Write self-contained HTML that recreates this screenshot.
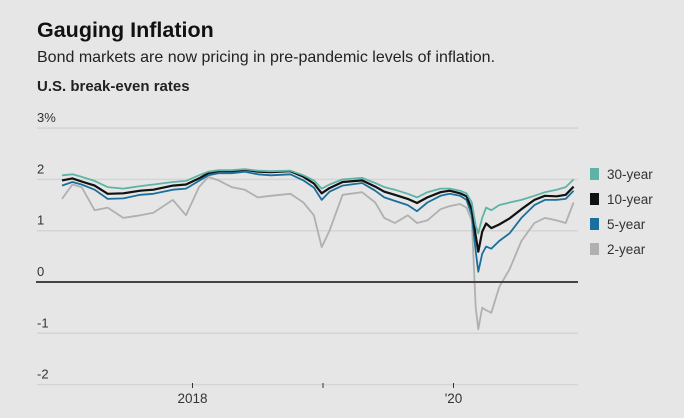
<!DOCTYPE html>
<html><head><meta charset="utf-8"><style>
html,body{margin:0;padding:0;background:#e6e6e6;}
body{width:684px;height:413px;overflow:hidden;position:relative;font-family:"Liberation Sans",sans-serif;}
</style></head><body>
<svg width="684" height="413" viewBox="0 0 684 413" xmlns="http://www.w3.org/2000/svg">
<rect width="684" height="413" fill="#e6e6e6"/>
<text x="37" y="37" font-size="21.5" font-weight="bold" fill="#111">Gauging Inflation</text>
<text x="37" y="62" font-size="16" fill="#222">Bond markets are now pricing in pre-pandemic levels of inflation.</text>
<text x="37" y="91" font-size="15" font-weight="bold" fill="#222">U.S. break-even rates</text>
<g id="grid"></g><g id="xaxis"></g><g id="series"></g><g id="legend"></g>
</svg>
<script>
const yTicks=[3,2,1,0,-1,-2];
const yTickLabels=["3%","2","1","0","-1","-2"];
const xTicks=[2018,2019,2020];
const xTickLabels=["2018","","'20"];
const dates=[2017.0,2017.08,2017.15,2017.25,2017.35,2017.47,2017.6,2017.7,2017.85,2017.95,2018.05,2018.12,2018.2,2018.3,2018.4,2018.5,2018.6,2018.75,2018.85,2018.93,2018.99,2019.05,2019.15,2019.3,2019.4,2019.47,2019.55,2019.65,2019.72,2019.8,2019.9,2019.97,2020.05,2020.1,2020.14,2020.17,2020.19,2020.22,2020.25,2020.29,2020.35,2020.43,2020.52,2020.62,2020.7,2020.79,2020.86,2020.92];
const y30=[2.08,2.1,2.05,1.97,1.85,1.82,1.87,1.9,1.95,1.97,2.08,2.15,2.18,2.18,2.2,2.17,2.16,2.17,2.08,1.98,1.82,1.9,2.0,2.03,1.93,1.85,1.8,1.72,1.65,1.75,1.82,1.82,1.78,1.73,1.55,1.1,0.95,1.25,1.45,1.4,1.5,1.55,1.6,1.68,1.75,1.8,1.85,2.0];
const y10=[1.98,2.02,1.96,1.88,1.72,1.73,1.78,1.8,1.88,1.9,2.02,2.12,2.16,2.16,2.19,2.15,2.14,2.16,2.05,1.92,1.73,1.83,1.95,1.98,1.86,1.76,1.7,1.62,1.54,1.65,1.75,1.78,1.73,1.67,1.42,0.9,0.59,0.98,1.14,1.05,1.12,1.24,1.42,1.6,1.68,1.67,1.7,1.86];
const y5=[1.88,1.95,1.9,1.8,1.62,1.63,1.7,1.72,1.8,1.82,1.97,2.08,2.12,2.12,2.15,2.1,2.08,2.1,1.98,1.84,1.6,1.76,1.88,1.93,1.78,1.65,1.58,1.5,1.38,1.55,1.68,1.72,1.68,1.6,1.3,0.6,0.2,0.55,0.69,0.65,0.8,0.95,1.25,1.5,1.6,1.6,1.62,1.78];
const y2=[1.62,1.9,1.85,1.4,1.45,1.25,1.3,1.35,1.6,1.3,1.85,2.05,1.98,1.85,1.8,1.65,1.68,1.72,1.55,1.3,0.68,1.0,1.7,1.75,1.55,1.25,1.15,1.3,1.15,1.2,1.42,1.48,1.52,1.45,1.2,-0.5,-0.92,-0.5,-0.55,-0.6,-0.1,0.25,0.8,1.15,1.25,1.2,1.15,1.55];
const seriesNames=["2-year","5-year","10-year","30-year"];
const seriesColors=["#b0b0b0","#1a6f9c","#111111","#5fb3a6"];
const seriesData=[y2,y5,y10,y30];
const X=t=>192.5+(t-2018)*130.5;
const Y=v=>282-v*51.3;
const NS="http://www.w3.org/2000/svg";
function mk(tag,attrs,parent){const e=document.createElementNS(NS,tag);for(const k in attrs)e.setAttribute(k,attrs[k]);parent.appendChild(e);return e;}
const grid=document.getElementById('grid');
yTicks.forEach((v,i)=>{
  if(v!==0){const l=mk('line',{x1:37,x2:578,y1:Y(v),y2:Y(v),stroke:'#d4d4d4','stroke-width':1.5},grid);
  
  }
  const t=mk('text',{x:37,y:Y(v)-6,'font-size':13,fill:'#333'},grid);t.textContent=yTickLabels[i];
  
  
});
const xa=document.getElementById('xaxis');
xTicks.forEach((v,i)=>{
  const l=mk('line',{x1:X(v),x2:X(v),y1:383,y2:388,stroke:'#333','stroke-width':1},xa);
  
  
  if(xTickLabels[i]){const t=mk('text',{x:X(v),y:403,'font-size':13.5,fill:'#333','text-anchor':'middle'},xa);t.textContent=xTickLabels[i];
  
  }
});
const sg=document.getElementById('series');
seriesData.forEach((d,s)=>{
  const pts=d.map((v,i)=>X(dates[i]).toFixed(1)+','+Y(v).toFixed(1)).join(' ');
  const p=mk('polyline',{points:pts,fill:'none',stroke:seriesColors[s],'stroke-width':s===2?2.2:1.8,'stroke-linejoin':'round'},sg);
  
  
});
const z=mk('line',{x1:36,x2:578,y1:Y(0),y2:Y(0),stroke:'#444','stroke-width':2},sg);


const lg=document.getElementById('legend');
[3,2,1,0].forEach((s,i)=>{
  const cy=174+i*25;
  const r=mk('rect',{x:590,y:cy-6,width:9,height:12,fill:seriesColors[s]},lg);
  
  
  const t=mk('text',{x:607,y:cy+5,'font-size':13.5,fill:'#333'},lg);t.textContent=seriesNames[s];
  
  
});
</script>
</body></html>
